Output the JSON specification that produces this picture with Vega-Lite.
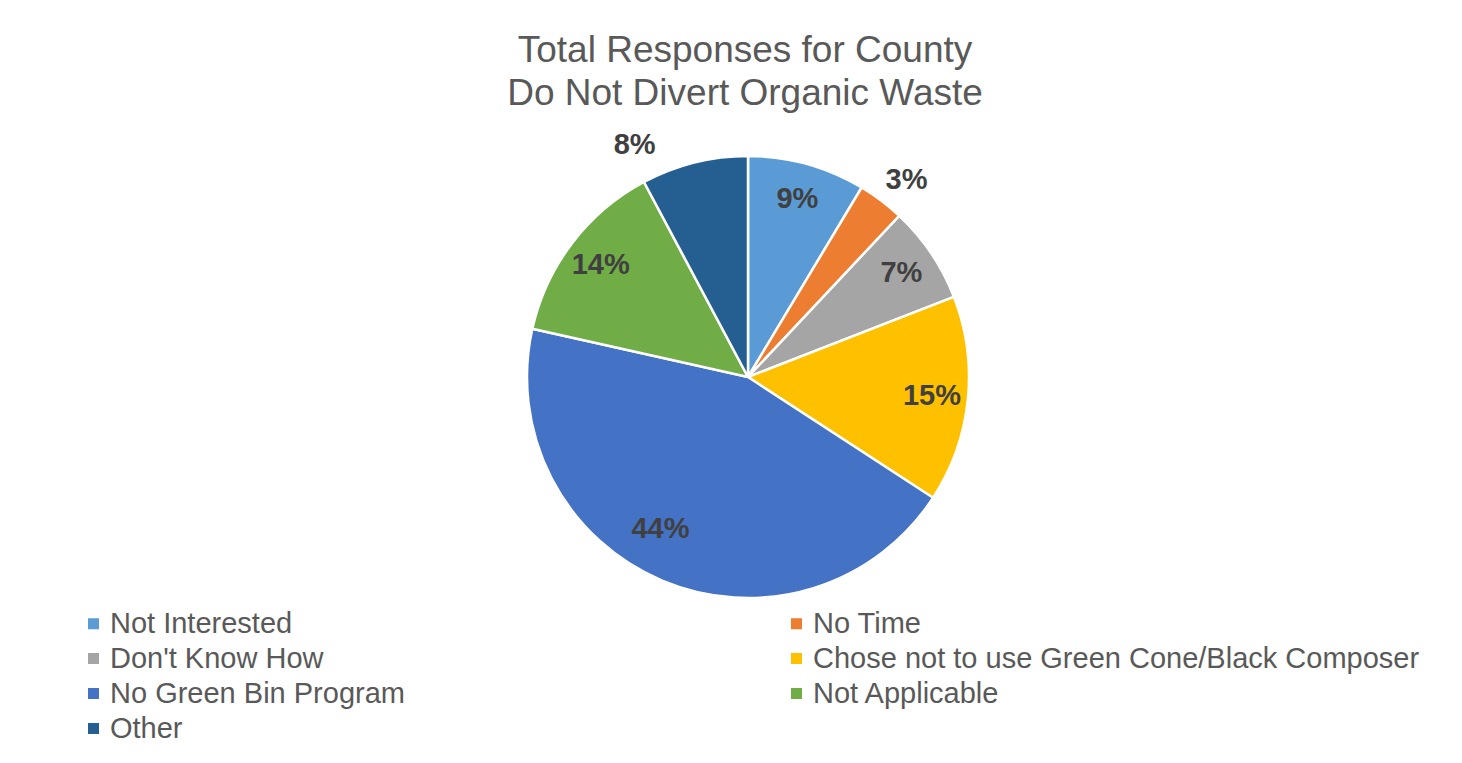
{
  "$schema": "https://vega.github.io/schema/vega-lite/v6.json",
  "width": 1428,
  "height": 534,
  "autosize": {"type": "none"},
  "padding": {"left": 34, "top": 110, "right": 0, "bottom": 119},
  "background": "white",
  "title": {
    "text": ["Total Responses for County", "Do Not Divert Organic Waste"],
    "fontSize": 37,
    "font": "Liberation Sans",
    "fontWeight": "normal",
    "color": "#595959",
    "lineHeight": 43,
    "anchor": "middle",
    "frame": "group",
    "baseline": "bottom",
    "offset": -40,
    "dx": -3
  },
  "data": {
    "values": [
      {"reason": "Not Interested", "share": 0.086, "rank": 1},
      {"reason": "No Time", "share": 0.034, "rank": 2},
      {"reason": "Don't Know How", "share": 0.071, "rank": 3},
      {"reason": "Chose not to use Green Cone/Black Composer", "share": 0.151, "rank": 4},
      {"reason": "No Green Bin Program", "share": 0.443, "rank": 5},
      {"reason": "Not Applicable", "share": 0.137, "rank": 6},
      {"reason": "Other", "share": 0.078, "rank": 7}
    ]
  },
  "encoding": {
    "theta": {"field": "share", "type": "quantitative", "stack": true},
    "order": {"field": "rank", "type": "quantitative"}
  },
  "layer": [
    {
      "mark": {"type": "arc", "outerRadius": 221, "stroke": "white", "strokeWidth": 2.5},
      "encoding": {
        "color": {
          "field": "reason",
          "type": "nominal",
          "sort": ["Not Interested", "No Time", "Don't Know How", "Chose not to use Green Cone/Black Composer", "No Green Bin Program", "Not Applicable", "Other"],
          "scale": {
            "domain": ["Not Interested", "No Time", "Don't Know How", "Chose not to use Green Cone/Black Composer", "No Green Bin Program", "Not Applicable", "Other"],
            "range": ["#5B9BD5", "#ED7D31", "#A5A5A5", "#FFC000", "#4472C4", "#70AD47", "#255E91"]
          },
          "legend": {
            "orient": "none",
            "direction": "horizontal",
            "legendX": 45,
            "legendY": 499,
            "columns": 2,
            "columnPadding": 377,
            "rowPadding": 5,
            "title": null,
            "labelFontSize": 29,
            "labelFont": "Liberation Sans",
            "labelColor": "#595959",
            "symbolType": "square",
            "symbolSize": 121,
            "symbolStrokeWidth": 0,
            "labelLimit": 900,
            "labelOffset": 2
          }
        }
      }
    },
    {
      "mark": {
        "type": "text",
        "font": "Liberation Sans",
        "fontWeight": "bold",
        "fontSize": 29,
        "fill": "#404040",
        "radius": {"expr": "datum.reason === 'No Time' ? 253 : datum.reason === 'Other' ? 258 : datum.reason === 'No Green Bin Program' ? 175 : 185"},
        "thetaOffset": {"expr": "datum.reason === 'Other' ? -0.21 : datum.reason === 'No Green Bin Program' ? 0.125 : datum.reason === 'No Time' ? 0.03 : 0"}
      },
      "encoding": {
        "detail": {"field": "reason", "type": "nominal"},
        "text": {"field": "share", "type": "quantitative", "format": ".0%"}
      }
    }
  ],
  "config": {"view": {"stroke": null}}
}
